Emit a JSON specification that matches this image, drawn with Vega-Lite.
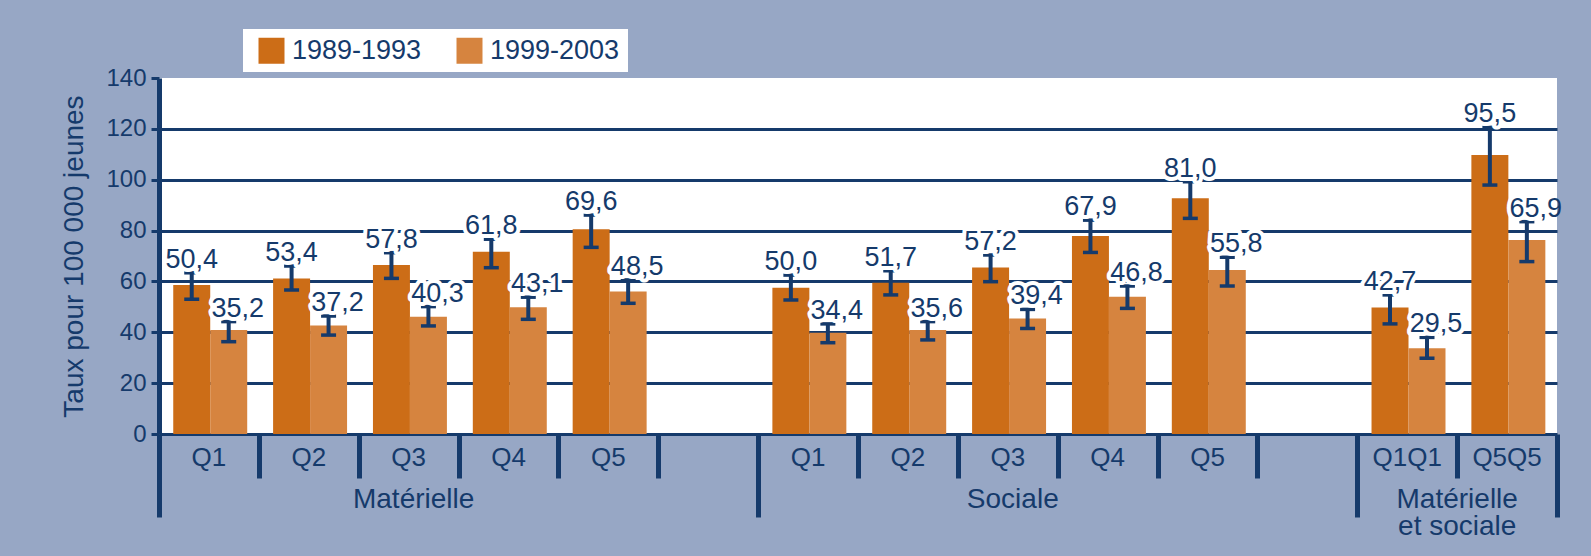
{
  "$schema": "https://vega.github.io/schema/vega-lite/v6.json",
  "width": 1398,
  "height": 356,
  "autosize": {"type": "none"},
  "padding": {"left": 159, "top": 78, "right": 34, "bottom": 122},
  "background": "#97a7c5",
  "config": {
    "view": {"fill": "white", "stroke": null},
    "font": "Liberation Sans"
  },
  "data": {
    "values": [
      {"slot": "M1", "period": "1989-1993", "value": 58.6, "lo": 53.0, "hi": 63.4, "label": "50,4"},
      {"slot": "M1", "period": "1999-2003", "value": 40.9, "lo": 36.3, "hi": 44.2, "label": "35,2"},
      {"slot": "M2", "period": "1989-1993", "value": 61.2, "lo": 56.6, "hi": 66.1, "label": "53,4"},
      {"slot": "M2", "period": "1999-2003", "value": 42.7, "lo": 38.9, "hi": 46.4, "label": "37,2"},
      {"slot": "M3", "period": "1989-1993", "value": 66.5, "lo": 61.2, "hi": 71.3, "label": "57,8"},
      {"slot": "M3", "period": "1999-2003", "value": 46.1, "lo": 42.5, "hi": 50.1, "label": "40,3"},
      {"slot": "M4", "period": "1989-1993", "value": 71.7, "lo": 65.4, "hi": 76.6, "label": "61,8"},
      {"slot": "M4", "period": "1999-2003", "value": 49.8, "lo": 45.1, "hi": 53.8, "label": "43,1"},
      {"slot": "M5", "period": "1989-1993", "value": 80.5, "lo": 73.4, "hi": 86.1, "label": "69,6"},
      {"slot": "M5", "period": "1999-2003", "value": 56.0, "lo": 51.4, "hi": 60.6, "label": "48,5"},
      {"slot": "S1", "period": "1989-1993", "value": 57.5, "lo": 52.7, "hi": 62.5, "label": "50,0"},
      {"slot": "S1", "period": "1999-2003", "value": 39.8, "lo": 35.9, "hi": 43.3, "label": "34,4"},
      {"slot": "S2", "period": "1989-1993", "value": 59.5, "lo": 54.7, "hi": 64.2, "label": "51,7"},
      {"slot": "S2", "period": "1999-2003", "value": 40.9, "lo": 37.0, "hi": 44.2, "label": "35,6"},
      {"slot": "S3", "period": "1989-1993", "value": 65.5, "lo": 59.9, "hi": 70.4, "label": "57,2"},
      {"slot": "S3", "period": "1999-2003", "value": 45.4, "lo": 41.5, "hi": 49.0, "label": "39,4"},
      {"slot": "S4", "period": "1989-1993", "value": 77.9, "lo": 71.4, "hi": 84.1, "label": "67,9"},
      {"slot": "S4", "period": "1999-2003", "value": 54.0, "lo": 49.4, "hi": 58.2, "label": "46,8"},
      {"slot": "S5", "period": "1989-1993", "value": 92.7, "lo": 84.8, "hi": 99.2, "label": "81,0"},
      {"slot": "S5", "period": "1999-2003", "value": 64.5, "lo": 58.2, "hi": 69.5, "label": "55,8"},
      {"slot": "MS1", "period": "1989-1993", "value": 49.7, "lo": 43.3, "hi": 54.7, "label": "42,7"},
      {"slot": "MS1", "period": "1999-2003", "value": 33.7, "lo": 29.8, "hi": 38.0, "label": "29,5"},
      {"slot": "MS2", "period": "1989-1993", "value": 109.7, "lo": 97.9, "hi": 120.6, "label": "95,5"},
      {"slot": "MS2", "period": "1999-2003", "value": 76.3, "lo": 67.8, "hi": 83.5, "label": "65,9"}
    ]
  },
  "layer": [
    {
      "mark": {"type": "bar"},
      "encoding": {
        "x": {
          "field": "slot", "type": "nominal", "title": null,
          "scale": {"domain": ["M1","M2","M3","M4","M5","M6","S1","S2","S3","S4","S5","S6","MS1","MS2"], "paddingInner": 0, "paddingOuter": 0},
          "axis": {
            "orient": "bottom", "labels": false, "ticks": true, "tickBand": "extent",
            "tickSize": {"condition": {"test": "!isValid(datum.value) || indexof(['M6','S6','MS2'], datum.value) >= 0", "value": 83}, "value": 44},
            "tickWidth": 5, "tickColor": "#153a6b",
            "domain": true, "domainColor": "#153a6b", "domainWidth": 3, "grid": false
          }
        },
        "xOffset": {"field": "period", "type": "nominal", "scale": {"paddingInner": 0, "paddingOuter": 0.35, "align": 0.55}},
        "y": {
          "field": "value", "type": "quantitative", "title": "Taux pour 100 000 jeunes",
          "scale": {"domain": [0, 140], "nice": false},
          "axis": {
            "values": [0, 20, 40, 60, 80, 100, 120, 140],
            "domainColor": "#153a6b", "domainWidth": 5,
            "tickColor": "#153a6b", "tickWidth": 3, "tickSize": 8,
            "labelFontSize": 24, "labelColor": "#153a6b", "labelPadding": 5,
            "grid": true, "gridColor": "#153a6b", "gridWidth": 3,
            "gridOpacity": {"condition": {"test": "datum.value == 0 || datum.value == 140", "value": 0}, "value": 1},
            "titleFontSize": 28, "titleFontWeight": "normal", "titleColor": "#153a6b", "titlePadding": 17
          }
        },
        "color": {
          "field": "period", "type": "nominal",
          "scale": {"domain": ["1989-1993", "1999-2003"], "range": ["#cc6d17", "#d6843f"]},
          "legend": {
            "title": null, "orient": "none", "legendX": 84, "legendY": -49,
            "direction": "horizontal", "fillColor": "white", "padding": 8,
            "symbolType": "square", "symbolSize": 676, "symbolStrokeWidth": 0, "symbolOpacity": 1,
            "labelFontSize": 27, "labelColor": "#153a6b", "labelOffset": 7,
            "columnPadding": 27, "symbolOffset": 7
          }
        }
      }
    },
    {
      "mark": {"type": "rule", "color": "#153a6b", "strokeWidth": 4},
      "encoding": {
        "x": {
          "field": "slot", "type": "nominal", "title": null,
          "axis": {
            "orient": "bottom", "ticks": false, "tickSize": 0, "domain": false, "grid": false,
            "labelExpr": "datum.value == 'MS1' ? 'Q1Q1' : datum.value == 'MS2' ? 'Q5Q5' : (substring(datum.value, 1) == '6' ? '' : 'Q' + substring(datum.value, 1))",
            "labelFontSize": 26, "labelColor": "#153a6b", "labelPadding": 10,
            "labelOverlap": false, "labelBound": false, "labelFlush": false, "labelAngle": 0
          }
        },
        "xOffset": {"field": "period", "type": "nominal"},
        "y": {"field": "lo", "type": "quantitative", "title": "Taux pour 100 000 jeunes"},
        "y2": {"field": "hi"}
      }
    },
    {
      "mark": {"type": "tick", "color": "#153a6b", "size": 15, "thickness": 3.5, "opacity": 1},
      "encoding": {
        "x": {"field": "slot", "type": "nominal", "title": null, "axis": null},
        "xOffset": {"field": "period", "type": "nominal"},
        "y": {"field": "hi", "type": "quantitative", "title": "Taux pour 100 000 jeunes"}
      }
    },
    {
      "mark": {"type": "tick", "color": "#153a6b", "size": 15, "thickness": 3.5, "opacity": 1},
      "encoding": {
        "x": {"field": "slot", "type": "nominal", "title": null, "axis": null},
        "xOffset": {"field": "period", "type": "nominal"},
        "y": {"field": "lo", "type": "quantitative", "title": "Taux pour 100 000 jeunes"}
      }
    },
    {
      "transform": [{"filter": "datum.period == '1989-1993'"}],
      "mark": {"type": "text", "baseline": "alphabetic", "dy": -5, "fontSize": 27, "fill": "white", "stroke": "white", "strokeWidth": 8, "strokeJoin": "round", "clip": true},
      "encoding": {
        "x": {
          "field": "slot", "type": "nominal", "title": null,
          "axis": {
            "orient": "bottom", "ticks": false, "tickSize": 0, "domain": false, "grid": false,
            "values": ["M3", "S3", "MS1"],
            "labelExpr": "datum.value == 'M3' ? 'Matérielle' : datum.value == 'S3' ? 'Sociale' : ['Matérielle', 'et sociale']",
            "labelOffset": {"condition": {"test": "datum.value == 'MS1'", "value": 50}, "value": 5},
            "labelFontSize": 28, "labelColor": "#153a6b", "labelPadding": 51, "labelLineHeight": 27,
            "labelBaseline": "top",
            "labelOverlap": false, "labelBound": false, "labelFlush": false, "labelAngle": 0, "labelLimit": 300
          }
        },
        "xOffset": {"field": "period", "type": "nominal"},
        "y": {"field": "hi", "type": "quantitative", "title": "Taux pour 100 000 jeunes"},
        "text": {"field": "label"}
      }
    },
    {
      "transform": [{"filter": "datum.period == '1999-2003'"}],
      "mark": {"type": "text", "baseline": "alphabetic", "dy": -5, "dx": 9, "fontSize": 27, "fill": "white", "stroke": "white", "strokeWidth": 8, "strokeJoin": "round", "clip": true},
      "encoding": {
        "x": {"field": "slot", "type": "nominal", "title": null, "axis": null},
        "xOffset": {"field": "period", "type": "nominal"},
        "y": {"field": "hi", "type": "quantitative", "title": "Taux pour 100 000 jeunes"},
        "text": {"field": "label"}
      }
    },
    {
      "transform": [{"filter": "datum.period == '1989-1993'"}],
      "mark": {"type": "text", "baseline": "alphabetic", "dy": -5, "fontSize": 27, "fill": "#153a6b"},
      "encoding": {
        "x": {"field": "slot", "type": "nominal", "title": null, "axis": null},
        "xOffset": {"field": "period", "type": "nominal"},
        "y": {"field": "hi", "type": "quantitative", "title": "Taux pour 100 000 jeunes"},
        "text": {"field": "label"}
      }
    },
    {
      "transform": [{"filter": "datum.period == '1999-2003'"}],
      "mark": {"type": "text", "baseline": "alphabetic", "dy": -5, "dx": 9, "fontSize": 27, "fill": "#153a6b"},
      "encoding": {
        "x": {"field": "slot", "type": "nominal", "title": null, "axis": null},
        "xOffset": {"field": "period", "type": "nominal"},
        "y": {"field": "hi", "type": "quantitative", "title": "Taux pour 100 000 jeunes"},
        "text": {"field": "label"}
      }
    }
  ],
  "resolve": {"axis": {"x": "independent"}}
}
